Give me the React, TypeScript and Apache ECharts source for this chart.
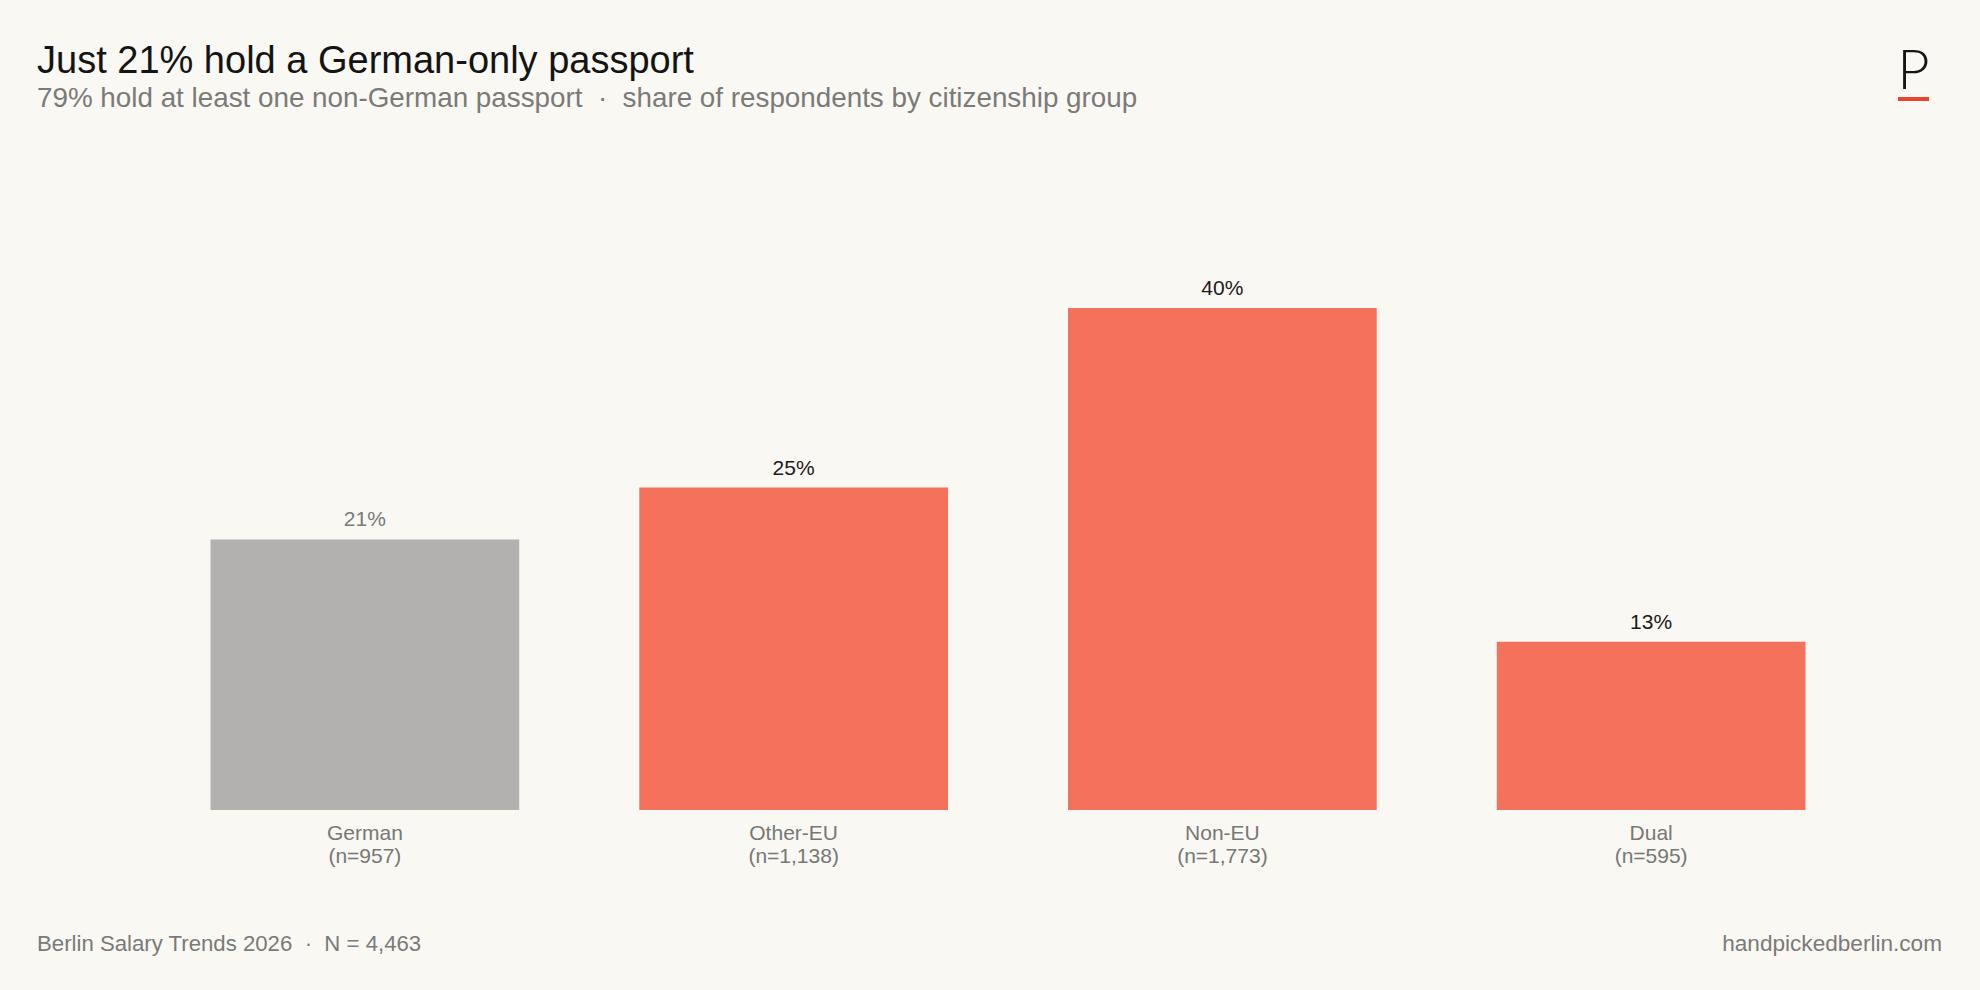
import React, { useEffect, useRef } from "react";
import * as echarts from "echarts";

const categories = ["German", "Other-EU", "Non-EU", "Dual"];
const sampleSizes = [957, 1138, 1773, 595];
const shares = [21.4, 25.5, 39.7, 13.3];
const shareLabels = ["21%", "25%", "40%", "13%"];
const barColors = ["#B2B1AF", "#F4725C", "#F4725C", "#F4725C"];
const valueLabelColors = ["#7A7A78", "#1A1A1A", "#1A1A1A", "#1A1A1A"];

const titleText = "Just 21% hold a German-only passport";
const subtitleText =
  "79% hold at least one non-German passport  \u00B7  share of respondents by citizenship group";
const footerLeft = "Berlin Salary Trends 2026  \u00B7  N = 4,463";
const footerRight = "handpickedberlin.com";

const FONT = "'Liberation Sans', Arial, Helvetica, sans-serif";

export default function App() {
  const ref = useRef<HTMLDivElement>(null);

  useEffect(() => {
    document.body.style.margin = "0";
    if (!ref.current) return;
    const chart = echarts.init(ref.current, undefined, { renderer: "svg" });

    const option = {
      animation: false,
      backgroundColor: "#FAF8F3",
      textStyle: { fontFamily: FONT },
      grid: { left: 150.5, right: 114.5, top: 241, bottom: 180 },
      xAxis: {
        type: "category",
        data: categories,
        axisLine: { show: false },
        axisTick: { show: false },
        splitLine: { show: false },
        axisLabel: {
          margin: 11,
          color: "#777775",
          fontSize: 21,
          lineHeight: 23,
          fontFamily: FONT,
          formatter: (v: string, i: number) =>
            `${v}\n(n=${sampleSizes[i].toLocaleString("en-US")})`,
        },
      },
      yAxis: {
        type: "value",
        min: 0,
        max: 45,
        show: false,
        splitLine: { show: false },
      },
      series: [
        {
          type: "bar",
          barWidth: "72%",
          data: shares.map((v, i) => ({
            value: v,
            itemStyle: { color: barColors[i] },
            label: { color: valueLabelColors[i] },
          })),
          label: {
            show: true,
            position: "top",
            distance: 10,
            fontSize: 21,
            fontFamily: FONT,
            formatter: (p: any) => shareLabels[p.dataIndex],
          },
        },
      ],
      graphic: [
        {
          type: "text",
          left: 37,
          top: 41,
          style: {
            text: titleText,
            fontSize: 38,
            fontFamily: FONT,
            fill: "#141414",
          },
        },
        {
          type: "text",
          left: 37,
          top: 83,
          style: {
            text: subtitleText,
            fontSize: 27.8,
            fontFamily: FONT,
            fill: "#7A7A78",
          },
        },
        {
          type: "text",
          x: 1913.5,
          y: 67,
          style: {
            text: "P",
            fontSize: 56,
            fontWeight: 300,
            fontFamily: "Lato, 'Open Sans', sans-serif",
            fill: "#151515",
            align: "center",
            verticalAlign: "middle",
          },
        },
        {
          type: "rect",
          shape: { x: 1898, y: 97, width: 31, height: 4 },
          style: { fill: "#E8442F" },
        },
        {
          type: "text",
          x: 37,
          y: 943,
          style: {
            text: footerLeft,
            fontSize: 22.2,
            fontFamily: FONT,
            fill: "#7A7A78",
            verticalAlign: "middle",
          },
        },
        {
          type: "text",
          x: 1942,
          y: 943,
          style: {
            text: footerRight,
            fontSize: 22.6,
            fontFamily: FONT,
            fill: "#7A7A78",
            align: "right",
            verticalAlign: "middle",
          },
        },
      ],
    };

    chart.setOption(option as any);
    return () => chart.dispose();
  }, []);

  return <div ref={ref} style={{ width: 1980, height: 990 }} />;
}
